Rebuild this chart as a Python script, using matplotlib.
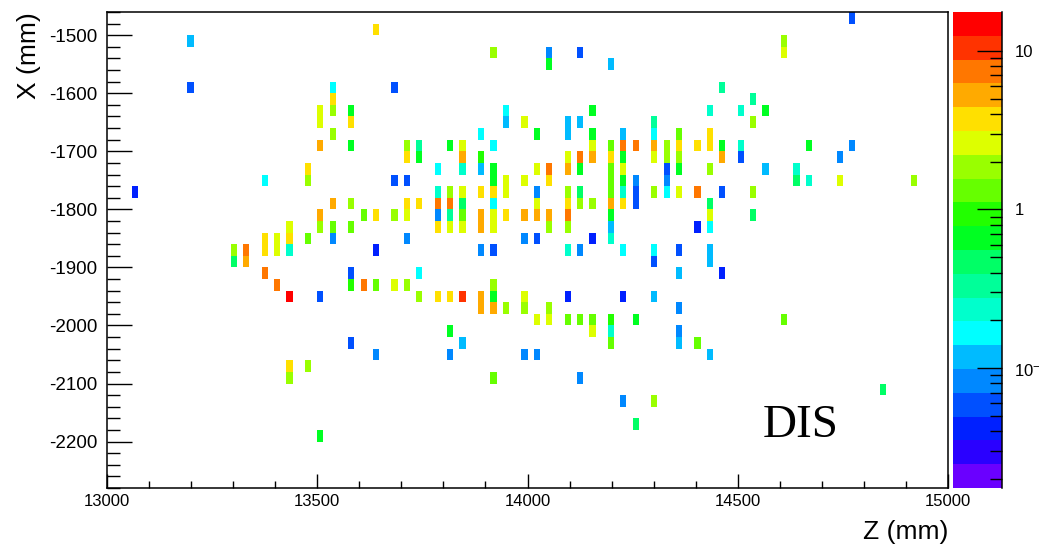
import numpy as np
import matplotlib
matplotlib.use("Agg")
import matplotlib.pyplot as plt
from matplotlib.colors import ListedColormap, LogNorm
from matplotlib.ticker import MultipleLocator, LogLocator, NullFormatter

plt.rcParams['font.family'] = ['Liberation Sans', 'DejaVu Sans']
plt.rcParams['axes.unicode_minus'] = False
plt.rcParams['mathtext.default'] = 'regular'

# hit map: one entry per Z column (mm), with the X rows (mm) and weights in it
z_cols = [13066, 13199, 13301, 13331, 13375, 13404, 13434, 13478, 13507, 13537,
          13581, 13610, 13640, 13684, 13713, 13743, 13787, 13816, 13846, 13890,
          13919, 13949, 13993, 14022, 14051, 14096, 14125, 14154, 14199, 14228,
          14257, 14301, 14331, 14360, 14404, 14434, 14463, 14507, 14537, 14566,
          14610, 14640, 14669, 14743, 14772, 14846, 14919]

x_cols = [
    [-1770],
    [-1510, -1590],
    [-1870, -1890],
    [-1870, -1890],
    [-1750, -1850, -1870, -1910],
    [-1850, -1870, -1930],
    [-1830, -1850, -1870, -1950, -2070, -2090],
    [-1730, -1750, -1850, -2070],
    [-1630, -1650, -1690, -1810, -1830, -1950, -2190],
    [-1590, -1610, -1630, -1670, -1790, -1830, -1850],
    [-1630, -1650, -1690, -1790, -1830, -1910, -1930, -2030],
    [-1810, -1930],
    [-1490, -1810, -1870, -1930, -2050],
    [-1590, -1750, -1810, -1930],
    [-1690, -1710, -1750, -1790, -1810, -1850, -1930],
    [-1690, -1710, -1790, -1910, -1950],
    [-1730, -1770, -1790, -1810, -1830, -1950],
    [-1690, -1770, -1790, -1810, -1830, -1950, -2010, -2050],
    [-1690, -1710, -1730, -1770, -1790, -1810, -1830, -1950, -2030],
    [-1670, -1710, -1730, -1770, -1810, -1830, -1870, -1950, -1970],
    [-1530, -1690, -1730, -1750, -1770, -1790, -1810, -1830, -1870, -1930, -1950, -1970, -2090],
    [-1630, -1650, -1750, -1770, -1810, -1970],
    [-1650, -1750, -1810, -1850, -1950, -1970, -2050],
    [-1670, -1730, -1770, -1790, -1810, -1850, -1990, -2050],
    [-1530, -1550, -1730, -1750, -1810, -1830, -1970, -1990],
    [-1650, -1670, -1710, -1730, -1770, -1790, -1810, -1830, -1870, -1950, -1990],
    [-1530, -1650, -1710, -1730, -1770, -1790, -1870, -1990, -2090],
    [-1630, -1670, -1690, -1710, -1790, -1850, -1990, -2010],
    [-1550, -1690, -1710, -1730, -1750, -1770, -1790, -1810, -1830, -1850, -1990, -2010, -2030],
    [-1670, -1690, -1710, -1730, -1750, -1770, -1790, -1870, -1950, -2130],
    [-1690, -1750, -1770, -1790, -1990, -2170],
    [-1650, -1670, -1690, -1710, -1770, -1870, -1890, -1950, -2130],
    [-1690, -1710, -1730, -1750, -1770],
    [-1670, -1690, -1710, -1730, -1770, -1870, -1910, -1970, -2010, -2030],
    [-1690, -1770, -1830, -2030],
    [-1630, -1670, -1690, -1730, -1790, -1810, -1830, -1870, -1890, -2050],
    [-1590, -1690, -1710, -1770, -1910],
    [-1630, -1690, -1710],
    [-1610, -1650, -1770, -1810],
    [-1630, -1730],
    [-1510, -1530, -1990],
    [-1730, -1750],
    [-1690, -1750],
    [-1710, -1750],
    [-1470, -1690],
    [-2110],
    [-1750],
]

w_cols = [
    [0.04],
    [0.12, 0.06],
    [1.9, 0.47],
    [7.4, 5.2],
    [0.17, 3.7, 3.7, 7.4],
    [2.6, 2.6, 7.4],
    [2.6, 3.7, 0.23, 14.8, 3.7, 1.9],
    [3.7, 1.9, 1.3, 1.9],
    [2.6, 2.6, 5.2, 5.2, 1.9, 0.06, 0.66],
    [0.17, 3.7, 1.9, 1.9, 5.2, 1.3, 0.08],
    [0.66, 3.7, 0.66, 1.9, 1.3, 0.06, 0.93, 0.06],
    [1.3, 7.4],
    [3.7, 3.7, 0.04, 1.3, 0.08],
    [0.06, 0.06, 1.9, 2.6],
    [1.9, 3.7, 0.06, 3.7, 2.6, 0.08, 1.9],
    [0.33, 0.66, 3.7, 0.17, 1.9],
    [0.17, 0.23, 7.4, 0.08, 3.7, 3.7],
    [0.66, 1.9, 7.4, 0.33, 2.6, 3.7, 0.66, 0.08],
    [2.6, 5.2, 0.23, 2.6, 0.47, 1.3, 2.6, 10.5, 0.12],
    [0.17, 0.93, 0.12, 3.7, 5.2, 5.2, 0.08, 5.2, 5.2],
    [1.9, 0.17, 0.66, 0.66, 3.7, 0.17, 2.6, 2.6, 0.06, 1.9, 0.66, 5.2, 1.3],
    [0.17, 0.12, 2.6, 2.6, 3.7, 1.9],
    [2.6, 2.6, 5.2, 0.08, 2.6, 1.9, 0.08],
    [0.66, 2.6, 0.08, 2.6, 5.2, 0.06, 2.6, 0.08],
    [0.08, 0.66, 7.4, 3.7, 5.2, 1.9, 1.9, 2.6],
    [0.12, 0.12, 2.6, 5.2, 1.9, 3.7, 7.4, 1.9, 0.23, 0.04, 1.3],
    [0.06, 0.12, 7.4, 0.66, 0.47, 1.9, 0.08, 1.3, 0.08],
    [0.66, 0.66, 2.6, 5.2, 1.9, 0.04, 1.3, 2.6],
    [0.12, 1.3, 3.7, 1.3, 1.3, 1.3, 5.2, 0.66, 0.12, 0.23, 0.93, 0.23, 1.3],
    [0.12, 7.4, 0.66, 2.6, 0.66, 0.23, 3.7, 0.17, 0.04, 0.08],
    [7.4, 0.08, 0.06, 0.06, 0.66, 0.47],
    [0.33, 0.17, 5.2, 2.6, 1.9, 0.17, 0.06, 0.12, 1.9],
    [1.9, 1.9, 0.06, 0.08, 0.17],
    [1.3, 3.7, 1.9, 0.66, 2.6, 0.06, 0.12, 0.08, 0.08, 0.12],
    [3.7, 7.4, 0.04, 1.3],
    [0.23, 3.7, 3.7, 1.9, 0.47, 2.6, 0.17, 0.12, 0.12, 0.12],
    [0.33, 0.66, 5.2, 0.06, 0.04],
    [0.23, 0.23, 0.06],
    [0.33, 1.9, 1.9, 0.47],
    [0.66, 0.12],
    [1.9, 2.6, 1.3],
    [0.23, 0.47],
    [0.66, 0.23],
    [0.08, 2.6],
    [0.06, 0.08],
    [0.47],
    [1.9],
]

# ROOT style 20 level palette, violet -> red
palette = ['#6a00ff', '#2a00ff', '#0020ff', '#0050ff', '#0088ff',
           '#00bbff', '#00ffff', '#00ffcc', '#00ff99', '#00ff66',
           '#00ff22', '#22ff00', '#66ff00', '#99ff00', '#ddff00',
           '#ffe000', '#ffaa00', '#ff7700', '#ff3300', '#ff0000']

z = []
x = []
w = []
for i in range(len(z_cols)):
    for j in range(len(x_cols[i])):
        z.append(z_cols[i])
        x.append(x_cols[i][j])
        w.append(w_cols[i][j])

z_edges = np.linspace(13000, 15000, 137)
x_edges = np.arange(-2280, -1459, 20)

fig = plt.figure(figsize=(10.39, 5.48), dpi=100)
ax = fig.add_axes([107/1039, 60/548, 841/1039, 476/548])
cax = fig.add_axes([953/1039, 60/548, 49/1039, 476/548])

cmap = ListedColormap(palette)
norm = LogNorm(vmin=0.0175, vmax=17.6)
h, ze, xe, mesh = ax.hist2d(z, x, bins=[z_edges, x_edges], weights=w,
                            cmap=cmap, norm=norm, cmin=1e-4)

ax.set_xlim(13000, 15000)
ax.set_ylim(-2280, -1460)
ax.xaxis.set_major_locator(MultipleLocator(500))
ax.xaxis.set_minor_locator(MultipleLocator(100))
ax.yaxis.set_major_locator(MultipleLocator(100))
ax.yaxis.set_minor_locator(MultipleLocator(20))
ax.tick_params(axis='x', which='major', direction='in', length=10, width=1,
               labelsize=12, pad=4)
ax.tick_params(axis='x', which='minor', direction='in', length=5, width=1)
ax.tick_params(axis='y', which='major', direction='in', length=18, width=1,
               labelsize=13.5, pad=7)
ax.tick_params(axis='y', which='minor', direction='in', length=9, width=1)
for s in ax.spines.values():
    s.set_linewidth(1.1)

ax.set_xlabel("Z (mm)", fontsize=19, loc='right')
ax.xaxis.set_label_coords(1.0, -0.068)
ax.set_ylabel("X (mm)", fontsize=19, loc='top')
ax.yaxis.set_label_coords(-0.078, 1.0)

ax.text(0.78, 0.107, "DIS", transform=ax.transAxes, fontsize=34,
        family='Liberation Serif', ha='left', va='baseline')

# colour scale
cb = fig.colorbar(mesh, cax=cax)
cb.outline.set_visible(False)
cb.set_ticks([0.1, 1, 10], labels=['$10^{-1}$', '1', '10'])
cax.yaxis.set_minor_locator(LogLocator(base=10, subs=np.arange(2, 10)))
cax.yaxis.set_minor_formatter(NullFormatter())
cax.tick_params(which='major', direction='in', length=18, width=1,
                labelsize=12, pad=9, right=True, left=False)
cax.tick_params(which='minor', direction='in', length=9, width=1,
                right=True, left=False)
cax.plot([1, 1], [0, 1], transform=cax.transAxes, color='black', lw=1.1,
         clip_on=False)

fig.savefig("out.png", dpi=100)
